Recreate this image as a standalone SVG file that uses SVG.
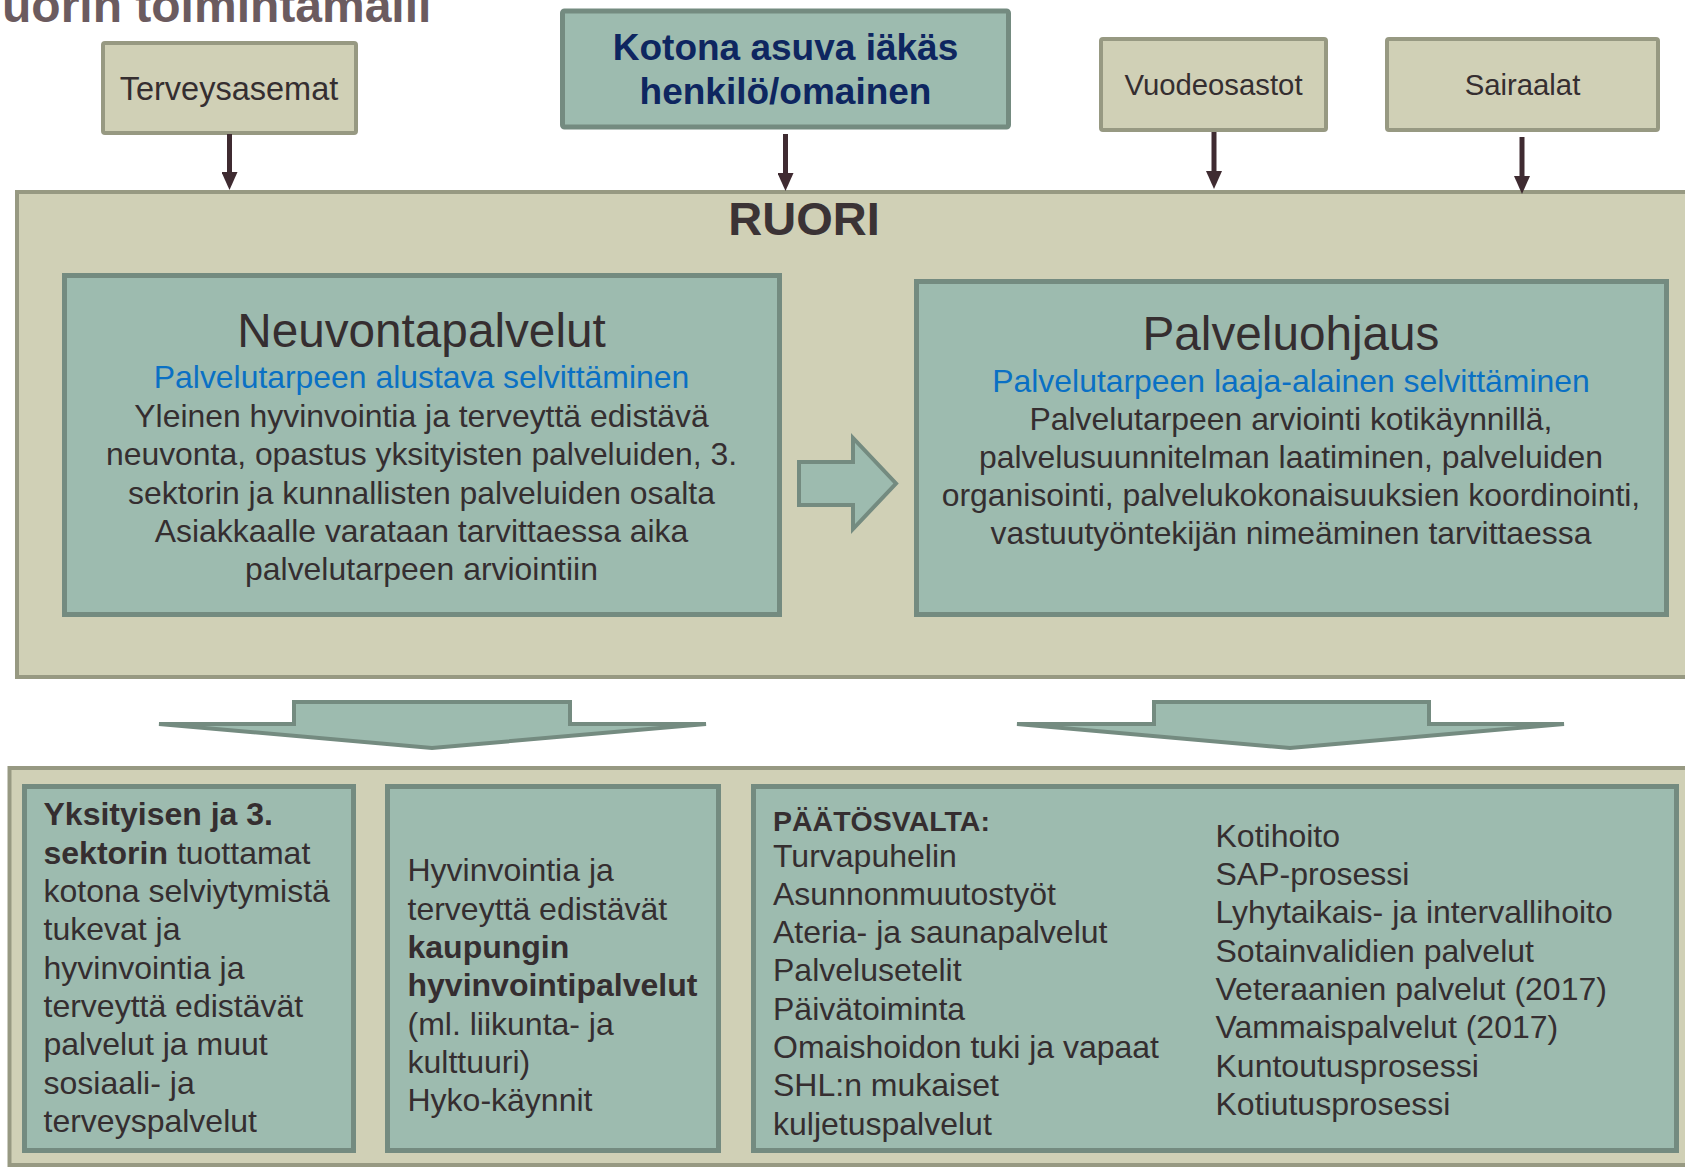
<svg xmlns="http://www.w3.org/2000/svg" width="1685" height="1169" viewBox="0 0 1685 1169">
<defs>
<style>
.beige{fill:#d0d0b6;stroke:#979982;stroke-width:4}
.teal{fill:#9dbbaf;stroke:#748b80;stroke-width:5}
.tealarrow{fill:#9dbbaf;stroke:#748b80;stroke-width:4;stroke-linejoin:miter}
text{font-family:"Liberation Sans",Arial,sans-serif;fill:#352e30}
.src{font-size:30px;text-anchor:middle}
.ttl{font-size:47.7px;text-anchor:middle}
.blue{font-size:31.9px;fill:#0a70c4;text-anchor:middle}
.body{font-size:31.9px;text-anchor:middle}
.lst{font-size:32px}
.b{font-weight:bold}
.conn{stroke:#3f2b31;stroke-width:5;fill:none}
</style>
<marker id="ah" markerUnits="userSpaceOnUse" markerWidth="18" markerHeight="16" viewBox="0 0 18 16" refX="0" refY="8" orient="auto">
<path d="M0,0 L18,8 L0,16 z" fill="#3f2b31"/>
</marker>
</defs>
<rect width="1685" height="1169" fill="#ffffff"/>
<text x="2" y="22" font-size="48" font-weight="bold" style="fill:#6b5b5f">uorin toimintamalli</text>

<g id="ruori">
<rect class="beige" x="17" y="192" width="1700" height="485"/>
<text x="804" y="235" font-size="47" font-weight="bold" text-anchor="middle" style="fill:#3b3335">RUORI</text>
</g>

<g id="terveysasemat">
<rect class="beige" x="103" y="43" width="253" height="90" rx="2"/>
<text class="src" x="229" y="100" style="font-size:32.5px">Terveysasemat</text>
</g>
<g id="kotona">
<rect class="teal" x="562.5" y="11" width="446" height="116" rx="2"/>
<text x="785.5" y="60" font-size="37" font-weight="bold" text-anchor="middle" style="fill:#0e2660">Kotona asuva iäkäs</text>
<text x="785.5" y="104" font-size="37" font-weight="bold" text-anchor="middle" style="fill:#0e2660">henkilö/omainen</text>
</g>
<g id="vuodeosastot">
<rect class="beige" x="1101" y="39" width="225" height="91" rx="2"/>
<text class="src" x="1213.5" y="95" style="font-size:29.3px">Vuodeosastot</text>
</g>
<g id="sairaalat">
<rect class="beige" x="1387" y="39" width="271" height="91" rx="2"/>
<text class="src" x="1522.5" y="95" style="font-size:29.3px">Sairaalat</text>
</g>

<g id="neuvontapalvelut">
<rect class="teal" x="64.5" y="275.5" width="715" height="339"/>
<text class="ttl" x="421.5" y="347">Neuvontapalvelut</text>
<text class="blue" x="421.5" y="388">Palvelutarpeen alustava selvittäminen</text>
<text class="body" x="421.5" y="427">Yleinen hyvinvointia ja terveyttä edistävä</text>
<text class="body" x="421.5" y="465.3">neuvonta, opastus yksityisten palveluiden, 3.</text>
<text class="body" x="421.5" y="503.6">sektorin ja kunnallisten palveluiden osalta</text>
<text class="body" x="421.5" y="541.9">Asiakkaalle varataan tarvittaessa aika</text>
<text class="body" x="421.5" y="580">palvelutarpeen arviointiin</text>
</g>

<g id="palveluohjaus">
<rect class="teal" x="916.5" y="281.5" width="750" height="333"/>
<text class="ttl" x="1291" y="350">Palveluohjaus</text>
<text class="blue" x="1291" y="391.5">Palvelutarpeen laaja-alainen selvittäminen</text>
<text class="body" x="1291" y="429.5">Palvelutarpeen arviointi kotikäynnillä,</text>
<text class="body" x="1291" y="467.8">palvelusuunnitelman laatiminen, palveluiden</text>
<text class="body" x="1291" y="506">organisointi, palvelukokonaisuuksien koordinointi,</text>
<text class="body" x="1291" y="544">vastuutyöntekijän nimeäminen tarvittaessa</text>
</g>

<g id="palvelut">
<rect class="beige" x="9.5" y="768" width="1700" height="397"/>
</g>

<g id="yksityiset">
<rect class="teal" x="24.5" y="786.5" width="329" height="364"/>
<text class="lst" x="43.5" y="825.3"><tspan class="b">Yksityisen ja 3.</tspan></text>
<text class="lst" x="43.5" y="863.7"><tspan class="b">sektorin</tspan> tuottamat</text>
<text class="lst" x="43.5" y="902">kotona selviytymistä</text>
<text class="lst" x="43.5" y="940.4">tukevat ja</text>
<text class="lst" x="43.5" y="978.7">hyvinvointia ja</text>
<text class="lst" x="43.5" y="1017">terveyttä edistävät</text>
<text class="lst" x="43.5" y="1055.4">palvelut ja muut</text>
<text class="lst" x="43.5" y="1093.7">sosiaali- ja</text>
<text class="lst" x="43.5" y="1132">terveyspalvelut</text>
</g>

<g id="kaupunki">
<rect class="teal" x="387.5" y="786.5" width="331" height="364"/>
<text class="lst" x="407.5" y="881.3">Hyvinvointia ja</text>
<text class="lst" x="407.5" y="919.6">terveyttä edistävät</text>
<text class="lst b" x="407.5" y="958">kaupungin</text>
<text class="lst b" x="407.5" y="996.3">hyvinvointipalvelut</text>
<text class="lst" x="407.5" y="1034.6">(ml. liikunta- ja</text>
<text class="lst" x="407.5" y="1073">kulttuuri)</text>
<text class="lst" x="407.5" y="1111.3">Hyko-käynnit</text>
</g>

<g id="paatosvalta">
<rect class="teal" x="753.5" y="786.5" width="923" height="364"/>
<text x="773" y="831" font-size="28.5" font-weight="bold">PÄÄTÖSVALTA:</text>
<text class="lst" x="773" y="866.5">Turvapuhelin</text>
<text class="lst" x="773" y="904.8">Asunnonmuutostyöt</text>
<text class="lst" x="773" y="943.1">Ateria- ja saunapalvelut</text>
<text class="lst" x="773" y="981.4">Palvelusetelit</text>
<text class="lst" x="773" y="1019.7">Päivätoiminta</text>
<text class="lst" x="773" y="1058">Omaishoidon tuki ja vapaat</text>
<text class="lst" x="773" y="1096.3">SHL:n mukaiset</text>
<text class="lst" x="773" y="1134.6">kuljetuspalvelut</text>
<text class="lst" x="1215.5" y="846.8">Kotihoito</text>
<text class="lst" x="1215.5" y="885.1">SAP-prosessi</text>
<text class="lst" x="1215.5" y="923.4">Lyhytaikais- ja intervallihoito</text>
<text class="lst" x="1215.5" y="961.7">Sotainvalidien palvelut</text>
<text class="lst" x="1215.5" y="1000">Veteraanien palvelut (2017)</text>
<text class="lst" x="1215.5" y="1038.3">Vammaispalvelut (2017)</text>
<text class="lst" x="1215.5" y="1076.6">Kuntoutusprosessi</text>
<text class="lst" x="1215.5" y="1114.9">Kotiutusprosessi</text>
</g>

<g id="connectors">
<line class="conn" x1="229.5" y1="134" x2="229.5" y2="172" marker-end="url(#ah)"/>
<line class="conn" x1="785.5" y1="134" x2="785.5" y2="173" marker-end="url(#ah)"/>
<line class="conn" x1="1214" y1="132" x2="1214" y2="171" marker-end="url(#ah)"/>
<line class="conn" x1="1522" y1="137" x2="1522" y2="176" marker-end="url(#ah)"/>
<polygon class="tealarrow" points="799,462 853,462 853,438 896,483.5 853,529 853,505 799,505"/>
<polygon class="tealarrow" points="294,702 570,702 570,724 706,724 432,748 159,724 294,724"/>
<polygon class="tealarrow" points="1154,702 1429,702 1429,724 1564,724 1290,748 1017,724 1154,724"/>
</g>
</svg>
